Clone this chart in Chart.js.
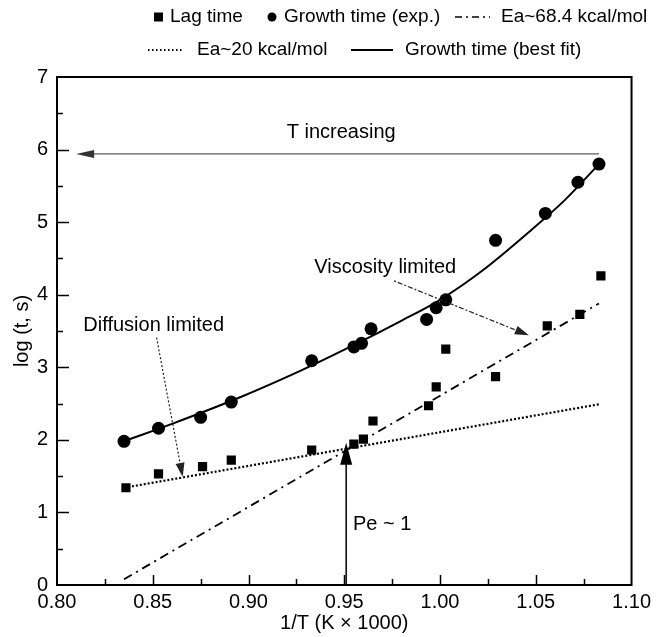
<!DOCTYPE html>
<html>
<head>
<meta charset="utf-8">
<script src="https://cdn.jsdelivr.net/npm/chart.js@4/dist/chart.umd.min.js"></script>
<style>
html, body { margin: 0; padding: 0; background: #fff; }
#wrap { width: 656px; height: 637px; }
</style>
</head>
<body>
<div id="wrap"><canvas id="chart"></canvas></div>
<script>
// Lag time (squares)
const lagX = [0.836, 0.853, 0.876, 0.891, 0.933, 0.955, 0.960, 0.965, 0.994, 0.998, 1.003, 1.029, 1.056, 1.073, 1.084];
const lagY = [1.34, 1.53, 1.63, 1.72, 1.86, 1.94, 2.01, 2.26, 2.47, 2.73, 3.25, 2.87, 3.57, 3.73, 4.26];

// Growth time, experimental (circles)
const growX = [0.835, 0.853, 0.875, 0.891, 0.933, 0.955, 0.959, 0.964, 0.993, 0.998, 1.003, 1.029, 1.055, 1.072, 1.083];
const growY = [1.98, 2.16, 2.31, 2.52, 3.09, 3.28, 3.33, 3.53, 3.66, 3.82, 3.93, 4.75, 5.12, 5.55, 5.80];

// Growth time best fit curve
const fitX = [0.835, 0.860, 0.895, 0.927, 0.953, 0.979, 1.000, 1.022, 1.048, 1.065, 1.083];
const fitY = [1.98, 2.22, 2.58, 2.95, 3.28, 3.63, 3.93, 4.33, 4.90, 5.30, 5.80];

// Arrhenius lines
const ea68X = [0.835, 1.083];
const ea68Y = [0.08, 3.88];
const ea20X = [0.835, 1.083];
const ea20Y = [1.34, 2.49];

const xTicks = [0.80, 0.85, 0.90, 0.95, 1.00, 1.05, 1.10];
const yTicks = [0, 1, 2, 3, 4, 5, 6, 7];

const FONT = '"Liberation Sans", Arial, Helvetica, sans-serif';

function pts(xs, ys) {
	return xs.map((x, i) => ({x: x, y: ys[i]}));
}

function arrowHead(ctx, x1, y1, x2, y2, len, half) {
	const ang = Math.atan2(y2 - y1, x2 - x1);
	ctx.beginPath();
	ctx.moveTo(x2, y2);
	ctx.lineTo(x2 - len * Math.cos(ang) + half * Math.sin(ang), y2 - len * Math.sin(ang) - half * Math.cos(ang));
	ctx.lineTo(x2 - len * Math.cos(ang) - half * Math.sin(ang), y2 - len * Math.sin(ang) + half * Math.cos(ang));
	ctx.closePath();
	ctx.fill();
}

function arrow(chart, from, to, opts) {
	const {ctx, scales: {x, y}} = chart;
	const x1 = x.getPixelForValue(from[0]), y1 = y.getPixelForValue(from[1]);
	const x2 = x.getPixelForValue(to[0]), y2 = y.getPixelForValue(to[1]);
	ctx.save();
	ctx.strokeStyle = opts.color;
	ctx.fillStyle = opts.color;
	ctx.lineWidth = opts.width;
	ctx.setLineDash(opts.dash || []);
	ctx.beginPath();
	ctx.moveTo(x1, y1);
	const ang = Math.atan2(y2 - y1, x2 - x1);
	ctx.lineTo(x2 - opts.len * 0.8 * Math.cos(ang), y2 - opts.len * 0.8 * Math.sin(ang));
	ctx.stroke();
	ctx.setLineDash([]);
	arrowHead(ctx, x1, y1, x2, y2, opts.len, opts.half);
	ctx.restore();
}

function label(chart, text, at, align) {
	const {ctx, scales: {x, y}} = chart;
	ctx.save();
	ctx.font = '20px ' + FONT;
	ctx.fillStyle = '#000';
	ctx.textAlign = align || 'center';
	ctx.textBaseline = 'middle';
	ctx.fillText(text, x.getPixelForValue(at[0]), y.getPixelForValue(at[1]));
	ctx.restore();
}

const decor = {
	id: 'decor',
	afterDraw(chart) {
		const {ctx, chartArea: a, scales: {x, y}} = chart;
		ctx.save();
		ctx.strokeStyle = '#000';
		ctx.lineWidth = 2;
		ctx.strokeRect(a.left, a.top, a.right - a.left, a.bottom - a.top);

		// inward tick marks
		ctx.lineWidth = 1.5;
		ctx.beginPath();
		for (let v = 0.5; v < 7; v += 0.5) {
			const py = Math.round(y.getPixelForValue(v)) + 0.5;
			const len = Number.isInteger(v) ? 12 : 6;
			ctx.moveTo(a.left, py);
			ctx.lineTo(a.left + len, py);
		}
		for (let k = 1; k < 12; k++) {
			const v = 0.8 + k * 0.025;
			const px = Math.round(x.getPixelForValue(v)) + 0.5;
			const len = k % 2 === 0 ? 10 : 6;
			ctx.moveTo(px, a.bottom);
			ctx.lineTo(px, a.bottom - len);
		}
		ctx.stroke();
		ctx.restore();

		// annotations
		arrow(chart, [1.083, 5.94], [0.81, 5.94], {color: '#333', width: 1, len: 18, half: 4});
		label(chart, 'T increasing', [0.9484, 6.23]);

		arrow(chart, [0.951, 0], [0.951, 1.96], {color: '#000', width: 1.5, len: 22, half: 6});
		label(chart, 'Pe ~ 1', [0.9545, 0.83], 'left');

		arrow(chart, [0.852, 3.41], [0.8656, 1.49], {color: '#222', width: 1.2, dash: [2, 2], len: 14, half: 4.5});
		label(chart, 'Diffusion limited', [0.8505, 3.57]);

		arrow(chart, [0.976, 4.19], [1.0464, 3.44], {color: '#222', width: 1.2, dash: [2, 2, 5, 2], len: 14, half: 4.5});
		label(chart, 'Viscosity limited', [0.9714, 4.37]);

		// legend, two rows as in the figure
		ctx.save();
		ctx.font = '19px ' + FONT;
		ctx.fillStyle = '#000';
		ctx.strokeStyle = '#000';
		ctx.textAlign = 'left';
		ctx.textBaseline = 'middle';
		const r1 = 17, r2 = 50;
		ctx.fillRect(154, r1 - 4.5, 9, 9);
		ctx.fillText('Lag time', 170, r1);
		ctx.beginPath();
		ctx.arc(272, r1, 4.5, 0, Math.PI * 2);
		ctx.fill();
		ctx.fillText('Growth time (exp.)', 284, r1);
		ctx.lineWidth = 1.5;
		ctx.setLineDash([7, 4, 2, 4]);
		ctx.beginPath();
		ctx.moveTo(455, r1); ctx.lineTo(490, r1);
		ctx.stroke();
		ctx.setLineDash([]);
		ctx.fillText('Ea~68.4 kcal/mol', 501, r1);

		ctx.setLineDash([1.5, 2.5]);
		ctx.lineWidth = 1.8;
		ctx.beginPath();
		ctx.moveTo(148, r2); ctx.lineTo(184, r2);
		ctx.stroke();
		ctx.setLineDash([]);
		ctx.fillText('Ea~20 kcal/mol', 197, r2);
		ctx.lineWidth = 2;
		ctx.beginPath();
		ctx.moveTo(351, r2); ctx.lineTo(393, r2);
		ctx.stroke();
		ctx.fillText('Growth time (best fit)', 405, r2);
		ctx.restore();
	}
};

const ctx = document.getElementById('chart').getContext('2d');
const chart = new Chart(ctx, {
	type: 'scatter',
	data: {
		datasets: [
			{
				label: 'Lag time',
				data: pts(lagX, lagY),
				pointStyle: 'rect',
				pointRadius: 6.5,
				backgroundColor: '#000',
				borderColor: '#000',
				borderWidth: 0,
				order: 0,
			},
			{
				label: 'Growth time (exp.)',
				data: pts(growX, growY),
				pointStyle: 'circle',
				pointRadius: 6.5,
				backgroundColor: '#000',
				borderColor: '#000',
				borderWidth: 0,
				order: 1,
			},
			{
				label: 'Ea~68.4 kcal/mol',
				data: pts(ea68X, ea68Y),
				showLine: true,
				borderColor: '#000',
				borderWidth: 1.8,
				borderDash: [9, 5, 2, 5],
				pointRadius: 0,
				order: 3,
			},
			{
				label: 'Ea~20 kcal/mol',
				data: pts(ea20X, ea20Y),
				showLine: true,
				borderColor: '#000',
				borderWidth: 2.2,
				borderDash: [2, 2],
				pointRadius: 0,
				order: 4,
			},
			{
				label: 'Growth time (best fit)',
				data: pts(fitX, fitY),
				showLine: true,
				borderColor: '#000',
				borderWidth: 2,
				cubicInterpolationMode: 'monotone',
				pointRadius: 0,
				order: 2,
			},
		]
	},
	options: {
		responsive: true,
		maintainAspectRatio: false,
		animation: false,
		layout: { padding: { top: 77, right: 23, left: 0, bottom: 0 } },
		plugins: {
			legend: { display: false },
			tooltip: { enabled: false },
		},
		scales: {
			x: {
				type: 'linear',
				min: 0.8, max: 1.1,
				afterFit: s => { s.height = 52; },
				afterBuildTicks: s => { s.ticks = xTicks.map(v => ({value: v})); },
				grid: { display: false, drawTicks: false },
				border: { display: false },
				ticks: {
					padding: 5,
					color: '#000',
					font: { family: FONT, size: 20 },
					callback: v => v.toFixed(2),
				},
				title: {
					display: true,
					text: '1/T (K \u00d7 1000)',
					color: '#000',
					font: { family: FONT, size: 20 },
					padding: { top: 0, bottom: 2 },
				},
			},
			y: {
				type: 'linear',
				min: 0, max: 7,
				afterFit: s => { s.width = 57; },
				afterBuildTicks: s => { s.ticks = yTicks.map(v => ({value: v})); },
				grid: { display: false, drawTicks: false },
				border: { display: false },
				ticks: {
					padding: 9,
					color: '#000',
					font: { family: FONT, size: 20 },
				},
				title: {
					display: true,
					text: 'log (t, s)',
					color: '#000',
					font: { family: FONT, size: 20 },
					padding: { top: 10, bottom: 0 },
				},
			},
		},
	},
	plugins: [decor],
});
</script>
</body>
</html>
